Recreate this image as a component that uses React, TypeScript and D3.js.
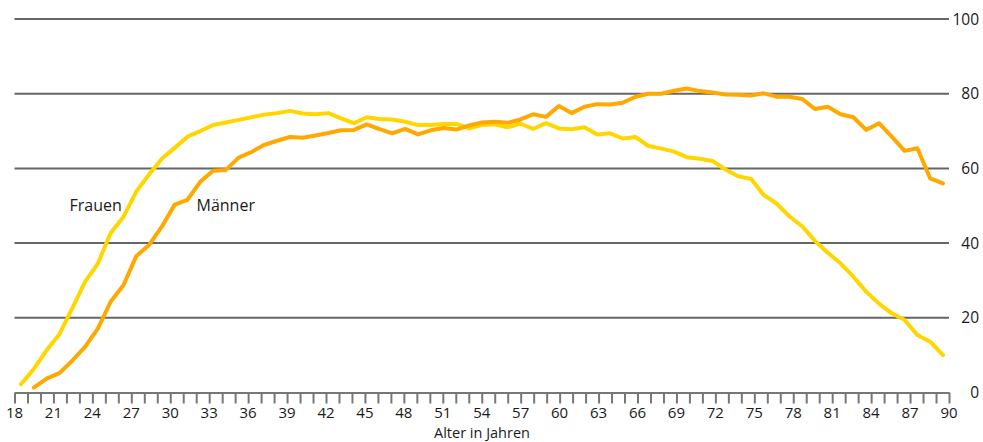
import { useEffect, useRef } from "react";
import * as d3 from "d3";

// Anteil in Prozent nach Alter (Frauen ab 18, Männer ab 19)
const agesFrauen = d3.range(18, 91);
const frauen = [
  2.2, 6.3, 11.3, 15.6, 22.5, 29.6, 34.5, 42.7, 47.0, 53.8,
  58.4, 62.6, 65.5, 68.5, 70.0, 71.6, 72.3, 73.0, 73.7, 74.4,
  74.8, 75.4, 74.7, 74.5, 74.8, 73.4, 72.1, 73.7, 73.2, 73.1,
  72.5, 71.6, 71.6, 71.9, 71.9, 70.7, 71.6, 71.8, 71.0, 72.0,
  70.6, 72.1, 70.7, 70.5, 71.0, 69.1, 69.4, 68.0, 68.4, 66.0,
  65.3, 64.5, 63.0, 62.6, 62.0, 59.7, 57.9, 57.2, 52.9, 50.6,
  47.2, 44.5, 40.6, 37.4, 34.6, 31.0, 27.0, 23.8, 21.2, 19.4,
  15.4, 13.6, 10.0,
];

const agesMaenner = d3.range(19, 91);
const maenner = [
  1.3, 3.7, 5.2, 8.5, 12.2, 17.1, 24.3, 28.7, 36.5, 39.5,
  44.4, 50.3, 51.6, 56.4, 59.4, 59.6, 62.9, 64.4, 66.3, 67.4,
  68.4, 68.2, 68.8, 69.5, 70.2, 70.3, 71.8, 70.5, 69.4, 70.6,
  69.1, 70.2, 70.8, 70.4, 71.5, 72.3, 72.5, 72.2, 73.1, 74.5,
  73.8, 76.7, 74.8, 76.5, 77.2, 77.1, 77.6, 79.2, 80.0, 80.0,
  80.8, 81.4, 80.7, 80.3, 79.8, 79.7, 79.5, 80.1, 79.2, 79.2,
  78.6, 75.9, 76.5, 74.5, 73.7, 70.3, 72.1, 68.5, 64.7, 65.4,
  57.3, 56.0,
];

const yTicks = [0, 20, 40, 60, 80, 100];
const xLabelTicks = d3.range(18, 91, 3);
const xMinorTicks = d3.range(18, 91);

export default function App() {
  const svgRef = useRef<SVGSVGElement>(null);

  useEffect(() => {
    document.body.style.margin = "0";
    if (!svgRef.current) return;
    const svg = d3.select(svgRef.current);
    svg.selectAll("*").remove();

    const font = "'Open Sans', 'DejaVu Sans', sans-serif";
    const x = d3.scaleLinear().domain([18, 90]).range([14.5, 949]);
    // die Kurven sitzen leicht eingerückt gegenüber der Achse
    const xData = d3.scaleLinear().domain([18, 90]).range([21, 943]);
    const y = d3.scaleLinear().domain([0, 100]).range([392.5, 19]);

    // Gitterlinien
    svg
      .append("g")
      .selectAll("line")
      .data(yTicks.filter((t) => t > 0))
      .join("line")
      .attr("x1", x(18))
      .attr("x2", x(90))
      .attr("y1", (d) => y(d))
      .attr("y2", (d) => y(d))
      .attr("stroke", "#666")
      .attr("stroke-width", 2);

    // y-Beschriftung rechts
    svg
      .append("g")
      .selectAll("text")
      .data(yTicks)
      .join("text")
      .attr("x", 979)
      .attr("y", (d) => y(d) + 5.5)
      .attr("text-anchor", "end")
      .attr("font-family", font)
      .attr("font-size", 15.5)
      .attr("fill", "#1a1a1a")
      .text((d) => d);

    // x-Achse
    const axis = svg
      .append("g")
      .attr("transform", `translate(0,${y(0)})`)
      .call(
        d3
          .axisBottom(x)
          .tickValues(xMinorTicks)
          .tickSize(11)
          .tickSizeOuter(0)
          .tickFormat(() => "")
      );
    axis.select(".domain").attr("stroke", "#777").attr("stroke-width", 2);
    axis.selectAll(".tick line").attr("stroke", "#777").attr("stroke-width", 2);

    svg
      .append("g")
      .selectAll("text")
      .data(xLabelTicks)
      .join("text")
      .attr("x", (d) => x(d))
      .attr("y", 417.5)
      .attr("text-anchor", "middle")
      .attr("font-family", font)
      .attr("font-size", 15)
      .attr("fill", "#1a1a1a")
      .text((d) => d);

    svg
      .append("text")
      .attr("x", 482)
      .attr("y", 438)
      .attr("text-anchor", "middle")
      .attr("font-family", font)
      .attr("font-size", 14.5)
      .attr("fill", "#1a1a1a")
      .text("Alter in Jahren");

    const line = d3
      .line<[number, number]>()
      .x((d) => xData(d[0]))
      .y((d) => y(d[1]));

    svg
      .append("path")
      .attr("d", line(agesFrauen.map((a, i) => [a, frauen[i]]) as [number, number][]))
      .attr("fill", "none")
      .attr("stroke", "#ffd600")
      .attr("stroke-width", 4)
      .attr("stroke-linejoin", "round")
      .attr("stroke-linecap", "round");

    svg
      .append("path")
      .attr("d", line(agesMaenner.map((a, i) => [a, maenner[i]]) as [number, number][]))
      .attr("fill", "none")
      .attr("stroke", "#ffa800")
      .attr("stroke-width", 4)
      .attr("stroke-linejoin", "round")
      .attr("stroke-linecap", "round");

    svg
      .append("text")
      .attr("x", 69.5)
      .attr("y", 211)
      .attr("font-family", font)
      .attr("font-size", 16)
      .attr("fill", "#1a1a1a")
      .text("Frauen");

    svg
      .append("text")
      .attr("x", 196.5)
      .attr("y", 211)
      .attr("font-family", font)
      .attr("font-size", 16)
      .attr("fill", "#1a1a1a")
      .text("Männer");
  }, []);

  return <svg ref={svgRef} width={983} height={442} style={{ display: "block" }} />;
}
